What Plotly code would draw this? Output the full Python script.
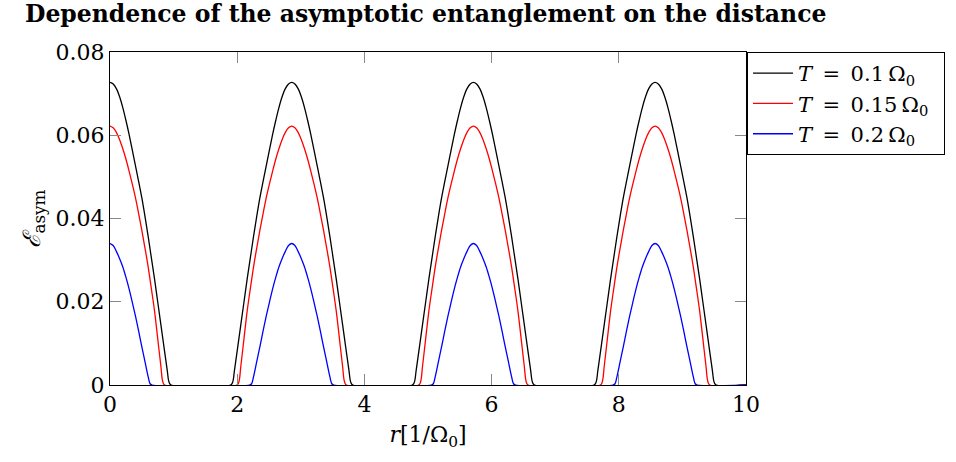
import plotly.graph_objects as go

# Peak positions of the periodic lobes (r in 1/Omega_0)
peak_centers = [0.0, 2.857, 5.714, 8.571]

# Lobe profiles: distance from peak -> E_asym
black_offsets = [0.0, 0.05, 0.1, 0.15, 0.2, 0.25, 0.3, 0.35, 0.4, 0.45, 0.5, 0.55, 0.6, 0.65, 0.7, 0.75, 0.8, 0.85, 0.9, 0.93, 0.96]
black_values = [0.0727, 0.0723, 0.0712, 0.0693, 0.0667, 0.0636, 0.0602, 0.0565, 0.0527, 0.0489, 0.0450, 0.0405, 0.0357, 0.0306, 0.0255, 0.0200, 0.0145, 0.0090, 0.0035, 0.0006, 0.0]

red_offsets = [0.0, 0.05, 0.1, 0.15, 0.2, 0.25, 0.3, 0.35, 0.4, 0.45, 0.5, 0.55, 0.6, 0.65, 0.7, 0.75, 0.8, 0.83, 0.86]
red_values = [0.0622, 0.0618, 0.0607, 0.0590, 0.0568, 0.0543, 0.0514, 0.0483, 0.0450, 0.0412, 0.0372, 0.0329, 0.0284, 0.0232, 0.0178, 0.0112, 0.0045, 0.0008, 0.0]

blue_offsets = [0.0, 0.05, 0.1, 0.15, 0.2, 0.25, 0.3, 0.35, 0.4, 0.45, 0.5, 0.55, 0.6, 0.63, 0.66]
blue_values = [0.0340, 0.0335, 0.0321, 0.0304, 0.0284, 0.0259, 0.0231, 0.0199, 0.0166, 0.0130, 0.0092, 0.0056, 0.0020, 0.0003, 0.0]

EN = "\u2002"
series_names = [
    f"<i>T</i>{EN}={EN}0.1\u2009Ω<sub>0</sub>{EN}",
    f"<i>T</i>{EN}={EN}0.15\u2009Ω<sub>0</sub>{EN}",
    f"<i>T</i>{EN}={EN}0.2\u2009Ω<sub>0</sub>{EN}",
]
series_colors = ["#000000", "#ff0000", "#0000ff"]

x_ticks = [0, 2, 4, 6, 8, 10]
y_ticks = [0, 0.02, 0.04, 0.06, 0.08]
y_tick_text = ["0", "0.02", "0.04", "0.06", "0.08"]
x_range = [0, 10]
y_range = [0, 0.08]


def build_curve(offsets, values):
    xs, ys = [], []
    for c in peak_centers:
        pts = [(c - d, v) for d, v in zip(reversed(offsets), reversed(values))]
        pts += [(c + d, v) for d, v in zip(offsets[1:], values[1:])]
        for x, y in pts:
            if x_range[0] <= x <= x_range[1] and (not xs or x > xs[-1]):
                xs.append(x)
                ys.append(y)
    xs.append(x_range[1])
    ys.append(0.0)
    return xs, ys


fig = go.Figure()
for (offs, vals), name, col in zip(
    [(black_offsets, black_values), (red_offsets, red_values), (blue_offsets, blue_values)],
    series_names, series_colors,
):
    xs, ys = build_curve(offs, vals)
    fig.add_trace(go.Scatter(x=xs, y=ys, mode="lines", name=name,
                             line=dict(color=col, width=1.3, shape="spline", smoothing=1.0)))

serif = "DejaVu Serif, serif"
axis_common = dict(showline=True, linecolor="#000000", linewidth=1, mirror="allticks",
                   ticks="inside", ticklen=11, tickcolor="#888888", tickwidth=1,
                   showgrid=False, zeroline=False,
                   tickfont=dict(family=serif, size=22, color="#000000"))

fig.update_layout(
    width=956, height=462,
    margin=dict(l=110, r=209, t=52, b=77),
    paper_bgcolor="white", plot_bgcolor="white",
    showlegend=True,
    legend=dict(x=1.0, xanchor="left", y=1.0, yanchor="top",
                bordercolor="#000000", borderwidth=1, bgcolor="white",
                font=dict(family=serif, size=21, color="#000000"),
                tracegroupgap=0, itemwidth=40),
    xaxis=dict(range=x_range, tickvals=x_ticks, **axis_common,
               title=dict(text="<i>r</i>[1/Ω<sub>0</sub>]", standoff=10,
                          font=dict(family=serif, size=22, color="#000000"))),
    yaxis=dict(range=y_range, tickvals=y_ticks, ticktext=y_tick_text, **axis_common,
               title=dict(text="<i>ℰ</i><sub>asym</sub>", standoff=8,
                          font=dict(family=serif, size=24, color="#000000"))),
    title=dict(text="<b>Dependence of the asymptotic entanglement on the distance</b>",
               x=25 / 956, xanchor="left", xref="container",
               y=1 - 14 / 462, yanchor="middle", yref="container",
               font=dict(family="DejaVu Serif, serif", size=23.5, color="#000000")),
)

fig.write_html("out.html")
